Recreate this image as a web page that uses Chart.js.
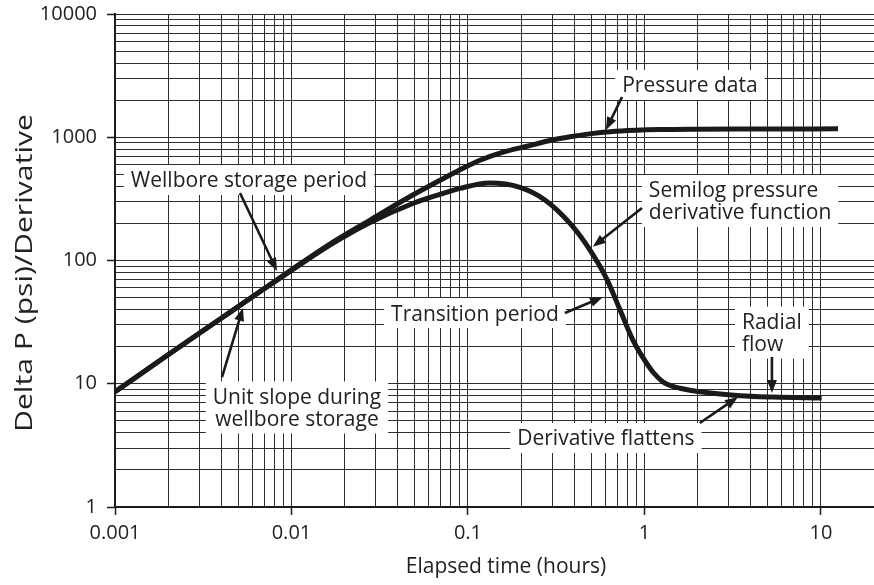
<!DOCTYPE html>
<html>
<head>
<meta charset="utf-8">
<title>Pressure and derivative vs elapsed time</title>
<script src="https://cdn.jsdelivr.net/npm/chart.js@4.4.1/dist/chart.umd.min.js"></script>
<style>
  html, body { margin: 0; padding: 0; background: #fff; }
  canvas { display: block; }
</style>
</head>
<body>
<canvas id="chart" width="874" height="585"></canvas>
<script>
// pressure curve: elapsed time (hours) vs delta P (psi)
const pressureTime = [0.001, 0.002, 0.004, 0.007, 0.01, 0.0165, 0.0279, 0.0487, 0.07, 0.0902, 0.117, 0.16, 0.216, 0.3, 0.379, 0.5, 0.638, 0.9, 1.22, 2, 4, 8, 12.5];
const pressurePsi  = [8.6, 17.2, 34, 59, 84, 136, 213, 340, 450, 545, 650, 760, 845, 950, 1010, 1070, 1109, 1140, 1155, 1163, 1166, 1168, 1170];

// semilog pressure derivative
const derivTime = [0.001, 0.002, 0.004, 0.007, 0.01, 0.0165, 0.0279, 0.0487, 0.07, 0.0902, 0.133, 0.197, 0.273, 0.379, 0.491, 0.614, 0.726, 0.861, 1.0, 1.12, 1.27, 1.42, 1.59, 2.06, 3.48, 5.35, 10.1];
const derivPsi  = [8.6, 17.2, 34, 59, 83, 133, 203, 290, 345, 385, 425, 392, 310, 200, 122, 70, 40, 22.6, 15.6, 12.4, 10.4, 9.6, 9.2, 8.6, 8.0, 7.8, 7.65];

const xRange = [0.001, 20];
const yRange = [1, 10000];

// callouts: text anchor, arrow tail and arrow tip in data units
const notes = [
  { lines: ['Pressure data'], at: [1.81, 2655], tail: [0.747, 2122], tip: [0.605, 1145] },
  { lines: ['Semilog pressure', 'derivative function'], align: 'left', at: [1.06, 304], tail: [0.969, 267], tip: [0.51, 129] },
  { lines: ['Wellbore storage period'], at: [0.00574, 450], tail: [0.00511, 353], tip: [0.00828, 82.2] },
  { lines: ['Unit slope during', 'wellbore storage'], at: [0.01074, 6.42], tail: [0.00404, 11.34], tip: [0.00531, 41.2] },
  { lines: ['Transition period'], at: [0.1096, 37.5], tail: [0.3544, 37.5], tip: [0.582, 50.6] },
  { lines: ['Radial', 'flow'], align: 'left', at: [3.57, 26.0], tail: [5.28, 16.5], tip: [5.28, 8.41] },
  { lines: ['Derivative flattens'], at: [0.605, 3.63], tail: [2.06, 4.80], tip: [3.39, 7.81] }
];

const FAMILY = "'Open Sans', 'DejaVu Sans', sans-serif";
const NOTE_FONT = "21px " + FAMILY;
const LINE_GAP = 22;
const INK = '#1a1a1a';

function isDecade(v) {
  const l = Math.log10(v);
  return Math.abs(l - Math.round(l)) < 1e-6;
}

// 1..9 x 10^n grid positions
function logTicks(lo, hi) {
  const out = [];
  for (let e = Math.floor(Math.log10(lo)); Math.pow(10, e) <= hi * 1.001; e++) {
    for (let m = 1; m < 10; m++) {
      const v = +(m * Math.pow(10, e)).toPrecision(4);
      if (v >= lo * 0.999 && v <= hi * 1.001) out.push({ value: v });
    }
  }
  return out;
}

function noteBox(chart, n) {
  const ctx = chart.ctx;
  const xs = chart.scales.x, ys = chart.scales.y;
  const ax = xs.getPixelForValue(n.at[0]);
  const ay = ys.getPixelForValue(n.at[1]);
  const w = Math.max(...n.lines.map(s => ctx.measureText(s).width));
  const left = n.align === 'left' ? ax : ax - w / 2;
  const h = n.lines.length * LINE_GAP;
  return { ax, ay, w, left, x: left - 7, y: ay - h / 2 - 4, bw: w + 14, bh: h + 8 };
}

const notesPlugin = {
  id: 'notes',
  beforeDatasetsDraw(chart) {
    const ctx = chart.ctx;
    ctx.save();
    ctx.font = NOTE_FONT;
    ctx.fillStyle = '#fff';
    notes.forEach(n => {
      const b = noteBox(chart, n);
      ctx.fillRect(b.x, b.y, b.bw, b.bh);
    });
    ctx.restore();
  },
  afterDatasetsDraw(chart) {
    const ctx = chart.ctx;
    const xs = chart.scales.x, ys = chart.scales.y;
    ctx.save();
    ctx.font = NOTE_FONT;
    ctx.textBaseline = 'alphabetic';
    notes.forEach(n => {
      const b = noteBox(chart, n);
      ctx.fillStyle = '#222';
      n.lines.forEach((s, i) => {
        const cy = b.ay + (i - (n.lines.length - 1) / 2) * LINE_GAP;
        ctx.textAlign = n.align === 'left' ? 'left' : 'center';
        ctx.fillText(s, n.align === 'left' ? b.left : b.ax, cy + 7.5);
      });

      // arrow: shaft then filled head at the tip
      const x0 = xs.getPixelForValue(n.tail[0]), y0 = ys.getPixelForValue(n.tail[1]);
      const x1 = xs.getPixelForValue(n.tip[0]), y1 = ys.getPixelForValue(n.tip[1]);
      const ang = Math.atan2(y1 - y0, x1 - x0);
      const headLen = 13, headHalf = 5;
      const bx = x1 - headLen * Math.cos(ang), by = y1 - headLen * Math.sin(ang);
      ctx.strokeStyle = INK;
      ctx.lineWidth = 2.6;
      ctx.beginPath();
      ctx.moveTo(x0, y0);
      ctx.lineTo(bx + 2 * Math.cos(ang), by + 2 * Math.sin(ang));
      ctx.stroke();
      ctx.fillStyle = INK;
      ctx.beginPath();
      ctx.moveTo(x1, y1);
      ctx.lineTo(bx + headHalf * Math.sin(ang), by - headHalf * Math.cos(ang));
      ctx.lineTo(bx - headHalf * Math.sin(ang), by + headHalf * Math.cos(ang));
      ctx.closePath();
      ctx.fill();
    });
    ctx.restore();
  },
  afterDraw(chart) {
    // axis titles
    const ctx = chart.ctx;
    const a = chart.chartArea;
    ctx.save();
    ctx.fillStyle = '#222';
    ctx.textAlign = 'center';
    ctx.textBaseline = 'alphabetic';
    ctx.font = "21px " + FAMILY;
    ctx.fillText('Elapsed time (hours)', a.left + 391, a.bottom + 66);

    ctx.font = "23px " + FAMILY;
    const yTitle = 'Delta P (psi)/Derivative';
    const tw = ctx.measureText(yTitle).width;
    ctx.translate(a.left - 83, (a.top + a.bottom) / 2 + 12.5);
    ctx.rotate(-Math.PI / 2);
    ctx.scale(318 / tw, 1);
    ctx.fillText(yTitle, 0, 0);
    ctx.restore();
  }
};

const gridStyle = {
  color: '#2e2e2e',
  lineWidth: 1,
  drawTicks: true,
  tickLength: 8,
  tickWidth: 1.5,
  tickColor: c => (c.tick && isDecade(c.tick.value)) ? INK : 'rgba(0,0,0,0)'
};

new Chart(document.getElementById('chart'), {
  type: 'line',
  data: {
    datasets: [
      {
        label: 'Pressure data',
        data: pressureTime.map((t, i) => ({ x: t, y: pressurePsi[i] })),
        borderColor: INK,
        borderWidth: 5,
        pointRadius: 0,
        cubicInterpolationMode: 'monotone',
        fill: false
      },
      {
        label: 'Semilog pressure derivative',
        data: derivTime.map((t, i) => ({ x: t, y: derivPsi[i] })),
        borderColor: INK,
        borderWidth: 5,
        pointRadius: 0,
        cubicInterpolationMode: 'monotone',
        fill: false
      }
    ]
  },
  options: {
    responsive: false,
    animation: false,
    devicePixelRatio: 1,
    layout: { padding: { top: 14, right: 0, bottom: 0, left: 0 } },
    plugins: {
      legend: { display: false },
      tooltip: { enabled: false }
    },
    scales: {
      x: {
        type: 'logarithmic',
        min: xRange[0],
        max: xRange[1],
        afterBuildTicks: s => { s.ticks = logTicks(0.001, 10); },
        afterFit: s => { s.height = 78; s.paddingRight = 0; },
        grid: gridStyle,
        border: { color: INK, width: 2 },
        ticks: {
          autoSkip: false,
          maxRotation: 0,
          padding: 6,
          color: '#222',
          font: { family: FAMILY, size: 20 },
          callback: v => isDecade(v) ? String(v) : ''
        }
      },
      y: {
        type: 'logarithmic',
        min: yRange[0],
        max: yRange[1],
        afterBuildTicks: s => { s.ticks = logTicks(yRange[0], yRange[1]); },
        // keep the plot top pinned to the layout padding
        afterFit: s => { s.width = 115; s.paddingTop = 0; s.paddingBottom = 0; },
        grid: gridStyle,
        border: { color: INK, width: 2 },
        ticks: {
          autoSkip: false,
          padding: 10,
          color: '#222',
          font: { family: FAMILY, size: 20 },
          callback: v => isDecade(v) ? String(v) : ''
        }
      }
    }
  },
  plugins: [notesPlugin]
});
</script>
</body>
</html>
